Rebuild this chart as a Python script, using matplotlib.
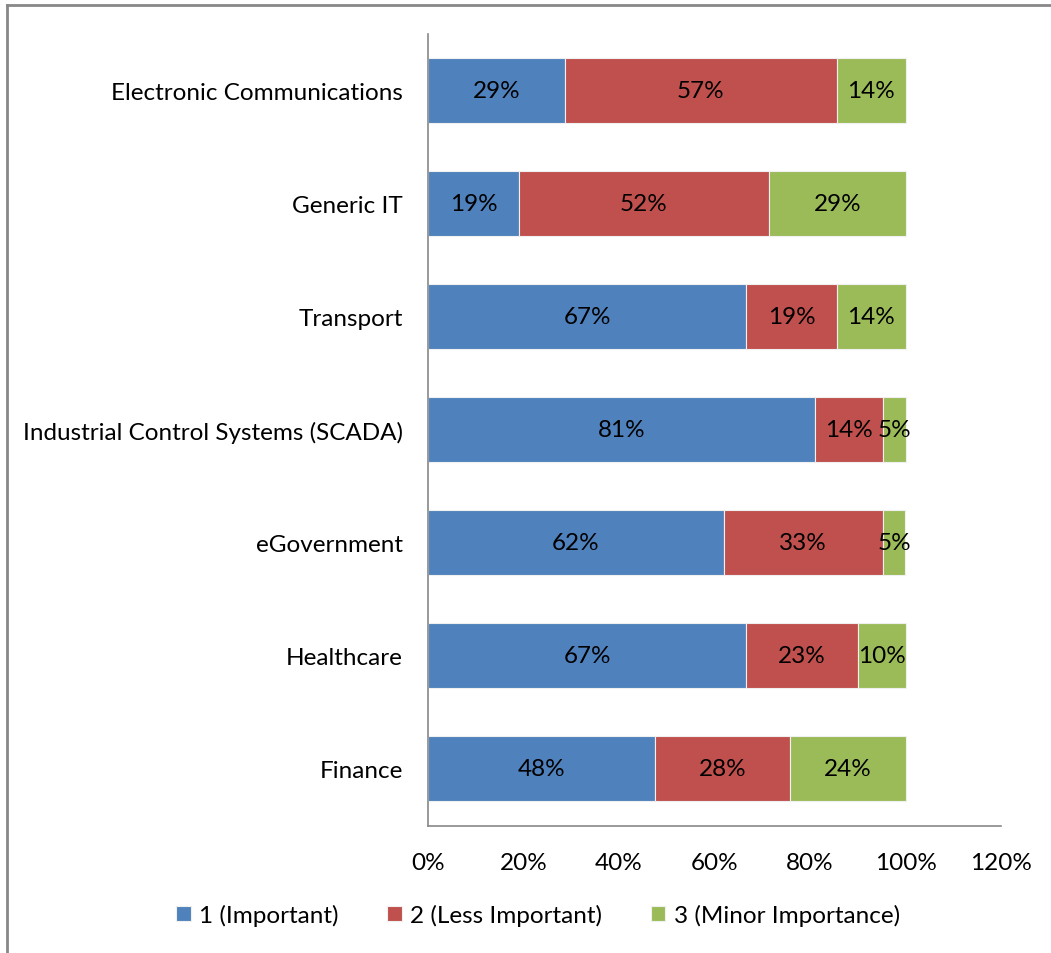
import numpy as np
import matplotlib.pyplot as plt
from matplotlib.lines import Line2D

plt.rcParams['font.family'] = ['Lato', 'DejaVu Sans']

categories = ['Electronic Communications', 'Generic IT', 'Transport',
              'Industrial Control Systems (SCADA)', 'eGovernment',
              'Healthcare', 'Finance']
important = [28.6, 19.0, 66.7, 81.0, 61.9, 66.7, 47.6]
less_important = [57.1, 52.4, 19.0, 14.3, 33.3, 23.3, 28.2]
minor = [14.3, 28.6, 14.3, 4.8, 4.8, 10.0, 24.2]
series_names = ['1 (Important)', '2 (Less Important)', '3 (Minor Importance)']
xticks = [0, 20, 40, 60, 80, 100, 120]

colors = ['#4F81BD', '#C0504D', '#9BBB59']
fs = 17.5

fig = plt.figure(figsize=(10.51, 9.54), dpi=100)
ax = fig.add_axes([428/1051, 1-826.5/954, (1001-428)/1051, (826.5-34.5)/954])

y = np.arange(len(categories))[::-1]
left = np.zeros(len(categories))
for vals, c, name in zip([important, less_important, minor], colors, series_names):
    vals = np.array(vals)
    ax.barh(y, vals, left=left, height=0.575, color=c,
            edgecolor='#f0f0f0', linewidth=0.8, label=name)
    for yi, l, v in zip(y, left, vals):
        ax.text(l + v/2, yi, '%d%%' % round(v), ha='center', va='center',
                fontsize=fs, color='black')
    left = left + vals

ax.set_xlim(0, 120)
ax.set_ylim(-0.5, len(categories) - 0.5)
ax.set_yticks(y)
ax.set_yticklabels(categories, fontsize=fs)
ax.set_xticks(xticks)
ax.set_xticklabels(['%d%%' % t for t in xticks], fontsize=fs)
ax.tick_params(axis='both', length=0)
ax.tick_params(axis='x', pad=19)
ax.tick_params(axis='y', pad=18)
for s in ['top', 'right']:
    ax.spines[s].set_visible(False)
for s in ['left', 'bottom']:
    ax.spines[s].set_color('#888888')
    ax.spines[s].set_linewidth(1.2)

fig.legend(loc='center', bbox_to_anchor=(538/1051, 1-916/954), ncol=3,
           frameon=False, fontsize=fs, handlelength=0.6, handleheight=0.6,
           handletextpad=0.35, columnspacing=2.0)

# chart frame
fig.add_artist(Line2D([7/1051, 7/1051], [0, 1-6/954], color='#888888', lw=2))
fig.add_artist(Line2D([7/1051, 1], [1-6/954, 1-6/954], color='#888888', lw=2))

fig.savefig('out.png', dpi=100)
